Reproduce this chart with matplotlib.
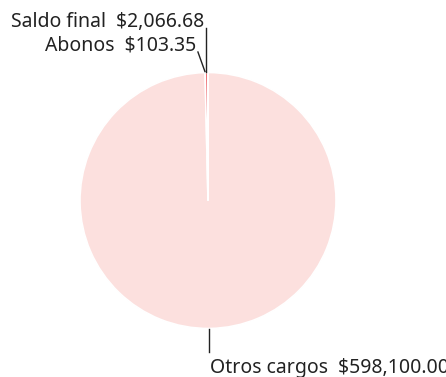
import numpy as np
import matplotlib
matplotlib.use("Agg")
import matplotlib.pyplot as plt

categories = ["Otros cargos", "Saldo final", "Abonos"]
values = [598100.00, 2066.68, 103.35]
value_labels = ["$598,100.00", "$2,066.68", "$103.35"]
colors = ["#fce0de", "#ee6f74", "#d9404a"]

W, H = 446, 377
fig = plt.figure(figsize=(W / 100, H / 100), dpi=100)
ax = fig.add_axes([0, 0, 1, 1])

cx, cy, r = 208, H - 200.5, 128
wedges, _ = ax.pie(values, colors=colors, startangle=90, counterclock=False,
                   center=(cx, cy), radius=r,
                   wedgeprops=dict(edgecolor="white", linewidth=1.2))
ax.set_xlim(0, W)
ax.set_ylim(0, H)
ax.set_aspect("equal")
ax.axis("off")

font = dict(family=["Noto Sans", "DejaVu Sans"], fontsize=14, color="#222222")


def edge_point(w):
    ang = np.deg2rad((w.theta1 + w.theta2) / 2)
    return cx + r * np.cos(ang), cy + r * np.sin(ang)


# Otros cargos: vertical leader below the pie
x0, y0 = edge_point(wedges[0])
ax.plot([x0, x0], [y0 - 1, H - 352], color="#222222", lw=1)
ax.text(x0 + 1, H - 373, f"{categories[0]}  {value_labels[0]}",
        ha="left", va="baseline", **font)

# Saldo final: vertical leader above the pie
x1, y1 = edge_point(wedges[1])
ax.plot([x1, x1], [y1 + 1, H - 28], color="#222222", lw=1)
ax.text(x1 - 2, H - 27, f"{categories[1]}  {value_labels[1]}",
        ha="right", va="baseline", **font)

# Abonos: slanted leader to a label on the left
x2, y2 = edge_point(wedges[2])
ax.plot([x2 - 3, x2 - 10], [y2 + 1, H - 52], color="#222222", lw=1)
ax.text(x2 - 12, H - 50, f"{categories[2]}  {value_labels[2]}",
        ha="right", va="baseline", **font)

fig.savefig("out.png", dpi=100, facecolor="white")
